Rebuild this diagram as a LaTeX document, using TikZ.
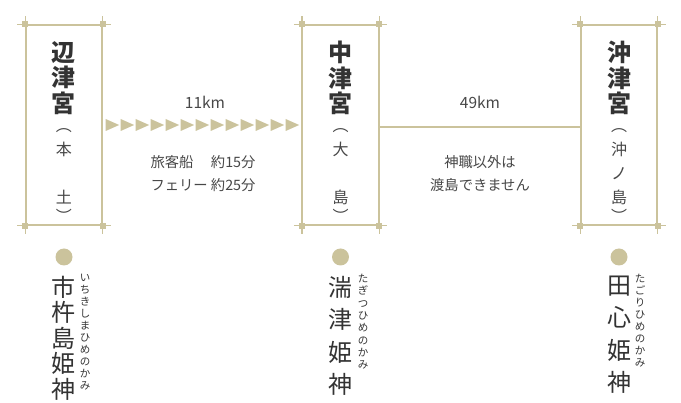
\documentclass[tikz,border=0pt]{standalone}
\usepackage{fontspec}
\setmainfont{Noto Sans CJK JP}
\usetikzlibrary{positioning,decorations.markings}
\definecolor{kinari}{RGB}{203,195,156}
\definecolor{sumi}{RGB}{51,51,51}

\begin{document}
\begin{tikzpicture}[x=1pt,y=-1pt,
	shrinebox/.style={ % 宮の枠
		draw=kinari, line width=1.3pt, minimum width=76pt, minimum height=200pt, inner sep=0pt
	},
	corner/.style={fill=kinari, minimum size=6pt, inner sep=0pt},
	tate/.style={ % 縦書きの列
		align=center, inner sep=0pt, text=sumi,
		font=\fontsize{#1}{#1}\selectfont
	},
	shrinename/.style={tate=24, font=\fontsize{24}{25.5}\selectfont\bfseries},
	islandname/.style={tate=16, font=\fontsize{16}{24}\selectfont, text=sumi!90},
	deity/.style={tate=24, font=\fontsize{24}{#1}\selectfont},
	yomi/.style={tate=10.5, font=\fontsize{10.5}{#1}\selectfont},
	dot/.style={circle, fill=kinari, minimum size=17pt, inner sep=0pt},
	info/.style={align=center, text=sumi!90, font=\fontsize{14.3}{23}\selectfont},
	kmlabel/.style={text=sumi!90, font=\fontsize{15.5}{15.5}\selectfont},
	ferry/.style={ % 三角の連なり
		decoration={markings, mark=between positions 0 and 181pt step 15pt with {
			\fill[kinari] (0pt,-6pt) -- (13.5pt,0pt) -- (0pt,6pt) -- cycle;
		}}, decorate
	}
]
	\useasboundingbox (0,0) rectangle (681,403);
	%% 三つの宮
	\node[shrinebox] (hetsu)   at (64,125)  {};
	\node[shrinebox] (nakatsu) at (340.5,125) {};
	\node[shrinebox] (okitsu)  at (619,125) {};
	% 枠の延長線と角
	\foreach \b in {hetsu,nakatsu,okitsu}{
		\draw[kinari, line width=1.3pt] ([yshift=8pt]\b.north west) -- ([yshift=-8pt]\b.south west);
		\draw[kinari, line width=1.3pt] ([yshift=8pt]\b.north east) -- ([yshift=-8pt]\b.south east);
		\draw[kinari, line width=1.3pt] ([xshift=-8pt]\b.north west) -- ([xshift=8pt]\b.north east);
		\draw[kinari, line width=1.3pt] ([xshift=-8pt]\b.south west) -- ([xshift=8pt]\b.south east);
		\foreach \c in {north west,north east,south west,south east}
			\node[corner] at (\b.\c) {};
	}
	% 宮の名前
	\node[shrinename] (hetsu-name)   at (64,78)    {辺\\津\\宮};
	\node[shrinename] (nakatsu-name) at (340.5,78) {中\\津\\宮};
	\node[shrinename] (okitsu-name)  at (619,78)   {沖\\津\\宮};
	\node[islandname] (hetsu-isle)   at (64,176)    {︵\\本\\　\\土\\[-5pt]︶};
	\node[islandname] (nakatsu-isle) at (340.5,176) {︵\\大\\　\\島\\[-5pt]︶};
	\node[islandname] (okitsu-isle)  at (619,176)   {︵\\沖\\ノ\\島\\[-5pt]︶};

	%% 航路
	\path[ferry] ([xshift=3pt]hetsu.east) -- (nakatsu.west);
	\node[kmlabel] (dist-a) at (205,102) {11km};
	\node[info] (time-a) at (203,174) {旅客船　 約15分\\フェリー 約25分};
	\draw[kinari, line width=1.3pt] ([yshift=-2pt]nakatsu.east) -- ([yshift=-2pt]okitsu.west);
	\node[kmlabel] (dist-b) at (480,102) {49km};
	\node[info] (note-b) at (480,174) {神職以外は\\渡島できません};

	%% 祭神
	\node[dot] (dot-a) at (64,257)    {};
	\node[dot] (dot-b) at (340.5,257) {};
	\node[dot] (dot-c) at (619,257)   {};
	\node[deity=25.5, below=10pt of dot-a] (kami-a) {市\\杵\\島\\姫\\神};
	\node[deity=32.5, below=10pt of dot-b] (kami-b) {湍\\津\\姫\\神};
	\node[deity=32.5, below=10pt of dot-c] (kami-c) {田\\心\\姫\\神};
	\node[yomi=12, anchor=north] (yomi-a) at (85,274)  {い\\ち\\き\\し\\ま\\ひ\\め\\の\\か\\み};
	\node[yomi=12.3, anchor=north] (yomi-b) at (363,274) {た\\ぎ\\つ\\ひ\\め\\の\\か\\み};
	\node[yomi=12, anchor=north] (yomi-c) at (640,274) {た\\ご\\り\\ひ\\め\\の\\か\\み};
\end{tikzpicture}
\end{document}
